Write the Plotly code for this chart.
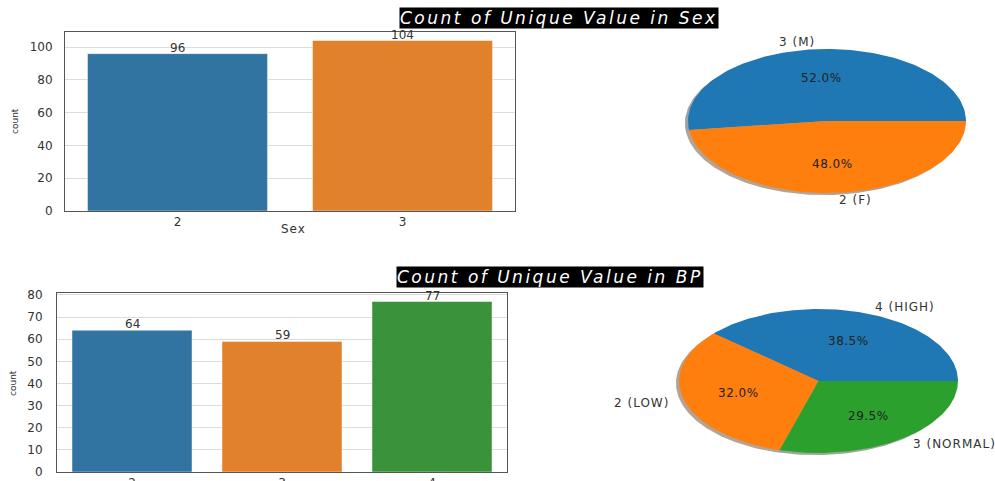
import numpy as np
import plotly.graph_objects as go

# ---- data ----
sex_codes = ["2", "3"]
sex_counts = [96, 104]
sex_pie_labels = ["3 (M)", "2 (F)"]
sex_pie_values = [104, 96]

bp_codes = ["2", "3", "4"]
bp_counts = [64, 59, 77]
bp_pie_labels = ["4 (HIGH)", "2 (LOW)", "3 (NORMAL)"]
bp_pie_values = [77, 64, 59]

W, H = 995, 481
FONT = "DejaVu Sans"
BAR_SEX = ["#3274a1", "#e1812c"]
BAR_BP = ["#3274a1", "#e1812c", "#3a923a"]
PIE_COLORS = ["#1f77b4", "#ff7f0e", "#2ca02c"]


def xd(a, b):
    return [a / W, b / W]


def yd(top, bottom):
    return [1 - bottom / H, 1 - top / H]


def yp(row):
    return 1 - row / H


def spaced(txt, px):
    return f'<span style="letter-spacing:{px}px">{txt}</span>'


fig = go.Figure()

# ---- bar charts ----
def add_bars(codes, counts, colors, xa, ya):
    fig.add_trace(go.Bar(
        x=codes, y=counts, width=0.8,
        marker=dict(color=colors, line=dict(color="rgba(255,255,255,0.45)", width=1)),
        xaxis=xa, yaxis=ya, showlegend=False, hoverinfo="skip",
    ))
    for i, v in enumerate(counts):
        fig.add_annotation(x=i, y=v, xref=xa, yref=ya, text=str(v),
                           showarrow=False, xanchor="center", yanchor="bottom", yshift=-3,
                           font=dict(family=FONT, size=12, color="#333"))


add_bars(sex_codes, sex_counts, BAR_SEX, "x", "y")
add_bars(bp_codes, bp_counts, BAR_BP, "x2", "y2")

# ---- elliptical pies drawn from the value shares ----
def rgba_shadow(hexc):
    r, g, b = (int(hexc[i:i + 2], 16) for i in (1, 3, 5))
    return f"rgba({int(r*0.3)},{int(g*0.3)},{int(b*0.3)},0.42)"


def add_pie(labels, values, xa, ya):
    vals = np.array(values, dtype=float)
    frac = vals / vals.sum()
    edges = np.concatenate([[0.0], np.cumsum(frac)]) * 360.0
    wedges = []
    for i in range(len(vals)):
        t = np.radians(np.linspace(edges[i], edges[i + 1], 120))
        px = np.concatenate([[0], np.cos(t), [0]])
        py = np.concatenate([[0], np.sin(t), [0]])
        wedges.append((px, py))
    # shadow layer
    for i, (px, py) in enumerate(wedges):
        fig.add_trace(go.Scatter(x=px - 0.022, y=py - 0.03, fill="toself", mode="lines",
                                 line=dict(width=0), fillcolor=rgba_shadow(PIE_COLORS[i]),
                                 xaxis=xa, yaxis=ya, showlegend=False, hoverinfo="skip"))
    for i, (px, py) in enumerate(wedges):
        fig.add_trace(go.Scatter(x=px, y=py, fill="toself", mode="lines",
                                 line=dict(width=0), fillcolor=PIE_COLORS[i],
                                 xaxis=xa, yaxis=ya, showlegend=False, hoverinfo="skip"))
    for i in range(len(vals)):
        mid = np.radians((edges[i] + edges[i + 1]) / 2)
        c, s = np.cos(mid), np.sin(mid)
        fig.add_annotation(x=0.6 * c, y=0.6 * s, xref=xa, yref=ya,
                           text=spaced(f"{frac[i]*100:.1f}%", 0.5), showarrow=False,
                           xanchor="center", yanchor="middle",
                           font=dict(family=FONT, size=12, color="#222"))
        fig.add_annotation(x=1.1 * c, y=1.1 * s, xref=xa, yref=ya,
                           text=spaced(labels[i], 1), showarrow=False,
                           xanchor="right" if c < 0 else "left", yanchor="middle",
                           font=dict(family=FONT, size=12, color="#333"))


add_pie(sex_pie_labels, sex_pie_values, "x3", "y3")
add_pie(bp_pie_labels, bp_pie_values, "x4", "y4")

# ---- titles and axis labels ----
for txt, cx, cy in [("Count of Unique Value in Sex", 559, 17.5),
                    ("Count of Unique Value in BP", 550, 277)]:
    fig.add_annotation(x=cx / W, y=yp(cy), xref="paper", yref="paper",
                       text=spaced(txt, 2.5),
                       showarrow=False, bgcolor="black", borderpad=0,
                       xanchor="center", yanchor="middle",
                       font=dict(family=FONT, size=17, color="white", style="italic"))

for cx, cy in [(15, 121), (13, 383)]:
    fig.add_annotation(x=cx / W, y=yp(cy), xref="paper", yref="paper", text="count",
                       textangle=-90, showarrow=False, xanchor="center", yanchor="middle",
                       font=dict(family=FONT, size=9, color="#333"))
fig.add_annotation(x=293 / W, y=yp(229), xref="paper", yref="paper", text=spaced("Sex", 1),
                   showarrow=False, xanchor="center", yanchor="middle",
                   font=dict(family=FONT, size=12, color="#333"))

tickfont = dict(family=FONT, size=12, color="#333")
frame = dict(showline=True, linecolor="#555", linewidth=1, mirror=True, automargin=False,
             zeroline=False, ticks="", tickfont=tickfont)
hidden = dict(visible=False, automargin=False)

ex = 1.2
ey = 1.25
fig.update_layout(
    width=W, height=H, margin=dict(l=0, r=0, t=0, b=0, autoexpand=False),
    paper_bgcolor="white", plot_bgcolor="white", showlegend=False,
    xaxis=dict(domain=xd(65, 515), anchor="y", type="category", range=[-0.5, 1.5],
               showgrid=False, **frame),
    yaxis=dict(domain=yd(32, 211), anchor="x", range=[0, 109.2], dtick=20,
               showgrid=True, gridcolor="#dcdcdc", ticklabelstandoff=9, **frame),
    xaxis2=dict(domain=xd(57, 507), anchor="y2", type="category", range=[-0.5, 2.5],
                showgrid=False, **frame),
    yaxis2=dict(domain=yd(293, 472), anchor="x2", range=[0, 80.85], dtick=10,
                showgrid=True, gridcolor="#dcdcdc", ticklabelstandoff=11, **frame),
    xaxis3=dict(domain=xd(827 - ex * 139, 827 + ex * 139), anchor="y3", range=[-ex, ex],
                **hidden),
    yaxis3=dict(domain=yd(121 - ey * 72, 121 + ey * 72), anchor="x3", range=[-ey, ey],
                **hidden),
    xaxis4=dict(domain=xd(818.5 - ex * 139.5, 818.5 + ex * 139.5), anchor="y4",
                range=[-ex, ex], **hidden),
    yaxis4=dict(domain=yd(381 - ey * 72, 381 + ey * 72), anchor="x4", range=[-ey, ey],
                **hidden),
)

fig.write_html("out.html")
